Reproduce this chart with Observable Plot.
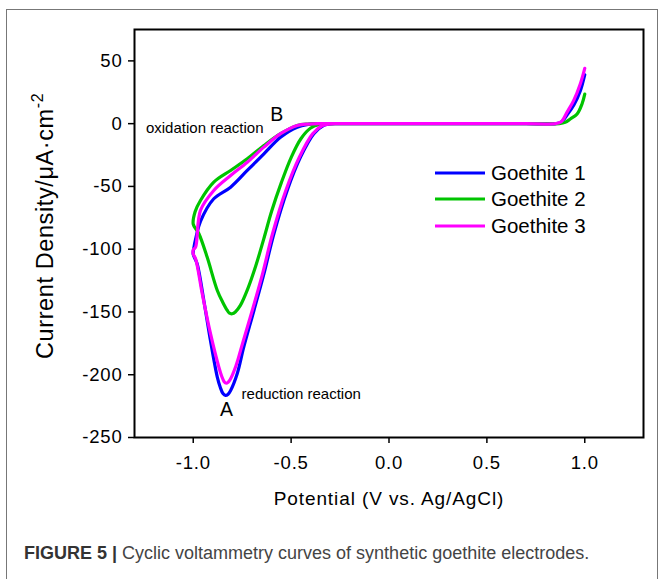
<!DOCTYPE html>
<html>
<head>
<meta charset="utf-8">
<script src="https://cdn.jsdelivr.net/npm/d3@7"></script>
<script src="https://cdn.jsdelivr.net/npm/@observablehq/plot@0.6"></script>
<style>
  body { margin: 0; background: #fff; font-family: "Liberation Sans", Arial, sans-serif; }
  #wrap { position: relative; width: 659px; height: 579px; overflow: hidden; background: #fff; }
  #chart { position: absolute; left: 0; top: 0; }
  #border { position: absolute; left: 6px; top: 9px; width: 650px; height: 620px; border: 1px solid #777; pointer-events: none; }
  .leg { position: absolute; left: 435px; height: 26px; display: flex; align-items: center; font-size: 20.5px; color: #000; white-space: nowrap; }
  .leg svg { margin-right: 6px; }
  #caption { position: absolute; left: 24px; top: 543px; font-size: 18px; color: #444; white-space: nowrap; }
  #caption b { color: #333; }
  #chart svg g[aria-label="x-axis tick label"] text,
  #chart svg g[aria-label="y-axis tick label"] text { letter-spacing: 0.8px; }
</style>
</head>
<body>
<div id="wrap">
  <div id="chart"></div>
  <div id="legend"></div>
  <div id="caption"><b>FIGURE 5 |</b> Cyclic voltammetry curves of synthetic goethite electrodes.</div>
  <div id="border"></div>
</div>
<script>
// ---- data ----
const seriesNames = ["Goethite 1", "Goethite 2", "Goethite 3"];
const seriesColors = ["#0000ff", "#00c400", "#ff00ff"];
const xTicks = [-1.0, -0.5, 0.0, 0.5, 1.0];
const yTicks = [-250, -200, -150, -100, -50, 0, 50];

// Goethite 1 (blue): potential (V) and current density (µA/cm²), along the sweep
const g1Potential = [1.0, 0.977, 0.945, 0.91, 0.88, 0.85, 0.7, 0.5, 0.25, 0.0, -0.1, -0.2, -0.27, -0.31, -0.333, -0.384, -0.452, -0.52, -0.588, -0.639, -0.69, -0.742, -0.775, -0.809, -0.822, -0.835, -0.848, -0.862, -0.877, -0.912, -0.946, -0.98, -1.0, -0.998, -0.985, -0.963, -0.895, -0.809, -0.724, -0.639, -0.554, -0.469, -0.41, -0.36, -0.3, -0.2, -0.1, 0.0, 0.25, 0.5, 0.7, 0.85, 0.88, 0.91, 0.945, 0.977, 1.0];
const g1Current   = [39, 26, 15, 7, 1.2, 0, 0, 0, 0, 0, 0, 0, 0, -0.4, -1.4, -8.0, -26.7, -53.2, -87.7, -119.6, -148.8, -178.0, -199.0, -212.5, -215.5, -216.5, -215, -210, -201.9, -172.7, -140.8, -111.6, -104, -100, -90, -77.8, -59.8, -50.6, -37.3, -24.0, -10.8, -2.8, -0.6, 0, 0, 0, 0, 0, 0, 0, 0, 0, 1.2, 7, 15, 26, 39];

// Goethite 2 (green)
const g2Potential = [1.0, 0.986, 0.961, 0.926, 0.9, 0.87, 0.7, 0.5, 0.25, 0.0, -0.1, -0.2, -0.28, -0.33, -0.35, -0.40, -0.45, -0.50, -0.55, -0.60, -0.64, -0.68, -0.72, -0.76, -0.785, -0.801, -0.815, -0.826, -0.85, -0.877, -0.929, -0.971, -1.0, -0.99, -0.963, -0.895, -0.809, -0.724, -0.639, -0.554, -0.469, -0.41, -0.36, -0.3, -0.2, -0.1, 0.0, 0.25, 0.5, 0.7, 0.87, 0.9, 0.926, 0.961, 0.986, 1.0];
const g2Current   = [23.5, 15.7, 7.7, 3.7, 1, 0, 0, 0, 0, 0, 0, 0, 0, -0.2, -0.5, -3.5, -12, -27, -47, -70, -92, -113, -131, -145, -150, -151.4, -151, -148.8, -142, -132.9, -106.3, -87.7, -80, -70, -61.2, -46.6, -37.3, -28.0, -17.4, -8.0, -1.4, -0.3, 0, 0, 0, 0, 0, 0, 0, 0, 0, 1, 3.7, 7.7, 15.7, 23.5];

// Goethite 3 (magenta)
const g3Potential = [1.0, 0.977, 0.943, 0.909, 0.88, 0.85, 0.7, 0.5, 0.25, 0.0, -0.1, -0.2, -0.27, -0.31, -0.34, -0.39, -0.458, -0.527, -0.595, -0.645, -0.697, -0.748, -0.782, -0.812, -0.822, -0.831, -0.842, -0.855, -0.869, -0.912, -0.954, -0.988, -1.0, -1.0, -0.988, -0.963, -0.895, -0.809, -0.724, -0.639, -0.554, -0.469, -0.41, -0.36, -0.3, -0.2, -0.1, 0.0, 0.25, 0.5, 0.7, 0.85, 0.88, 0.909, 0.943, 0.977, 1.0];
const g3Current   = [44, 31.6, 18.3, 9, 1.5, 0, 0, 0, 0, 0, 0, 0, 0, -0.4, -1.5, -8, -26.7, -53.2, -87.7, -119, -148, -175, -193, -204, -206, -206.8, -205.5, -201, -194.0, -167.1, -135.5, -107.6, -104, -100.5, -98.4, -69.1, -53.2, -41.3, -30.7, -18.7, -8.0, -1.4, -0.3, 0, 0, 0, 0, 0, 0, 0, 0, 0, 1.5, 9, 18.3, 31.6, 44];

// annotations (data coordinates)
const peakLabels = ["A", "B"];
const peakX = [-0.83, -0.574];
const peakY = [-228, 7.3];
const reactionLabels = ["oxidation reaction", "reduction reaction"];
const reactionX = [-0.641, -0.753];
const reactionY = [-3.8, -215.7];

// ---- build tables ----
const series = [[g1Potential, g1Current], [g2Potential, g2Current], [g3Potential, g3Current]];
const rows = [];
series.forEach(([xs, ys], i) => xs.forEach((x, j) => rows.push({series: seriesNames[i], x, y: ys[j]})));
const peaks = peakLabels.map((t, i) => ({t, x: peakX[i], y: peakY[i]}));
const reactions = reactionLabels.map((t, i) => ({t, x: reactionX[i], y: reactionY[i]}));

const chart = Plot.plot({
  width: 659,
  height: 520,
  marginLeft: 134,
  marginRight: 16,
  marginTop: 29,
  marginBottom: 83,
  style: {fontFamily: '"Liberation Sans", Arial, sans-serif', fontSize: "18.5px", color: "#000", background: "transparent"},
  x: {domain: [-1.3, 1.3]},
  y: {domain: [-250, 75]},
  color: {domain: seriesNames, range: seriesColors},
  marks: [
    Plot.line(rows, {x: "x", y: "y", z: "series", stroke: "series", strokeWidth: 3.2, curve: "catmull-rom", strokeLinejoin: "round"}),
    Plot.text(peaks, {x: "x", y: "y", text: "t", fontSize: 19.5, fill: "#000"}),
    Plot.text(reactions.slice(0, 1), {x: "x", y: "y", text: "t", fontSize: 15, textAnchor: "end", fill: "#000"}),
    Plot.text(reactions.slice(1), {x: "x", y: "y", text: "t", fontSize: 15, textAnchor: "start", fill: "#000"}),
    Plot.frame({stroke: "#000", strokeWidth: 2}),
    Plot.axisX({ticks: xTicks, tickFormat: d => d.toFixed(1), tickSize: 6, tickPadding: 12, strokeWidth: 1.5, label: null}),
    Plot.axisY({ticks: yTicks, tickFormat: d => String(d), tickSize: 6, tickPadding: 6, strokeWidth: 1.5, label: null})
  ]
});
document.getElementById("chart").appendChild(chart);

// axis titles
const svg = d3.select(chart);
const yt = svg.append("text")
  .attr("transform", "translate(53,359) rotate(-90)")
  .attr("text-anchor", "start")
  .attr("font-size", 23.5)
  .attr("letter-spacing", "0.6px")
  .attr("fill", "#000");
yt.append("tspan").text("Current Density/μA·cm");
yt.append("tspan").attr("dy", -10).attr("font-size", 16).text("-2");
svg.append("text")
  .attr("x", 389).attr("y", 505)
  .attr("text-anchor", "middle")
  .attr("font-size", 19)
  .attr("letter-spacing", "0.9px")
  .attr("fill", "#000")
  .text("Potential (V vs. Ag/AgCl)");

// legend
const legTops = [160, 186, 213];
seriesNames.forEach((name, i) => {
  const d = document.createElement("div");
  d.className = "leg";
  d.style.top = legTops[i] + "px";
  d.innerHTML = `<svg width="50" height="6"><line x1="0" x2="50" y1="3" y2="3" stroke="${seriesColors[i]}" stroke-width="3.2"/></svg><span>${name}</span>`;
  document.getElementById("legend").appendChild(d);
});
</script>
</body>
</html>
